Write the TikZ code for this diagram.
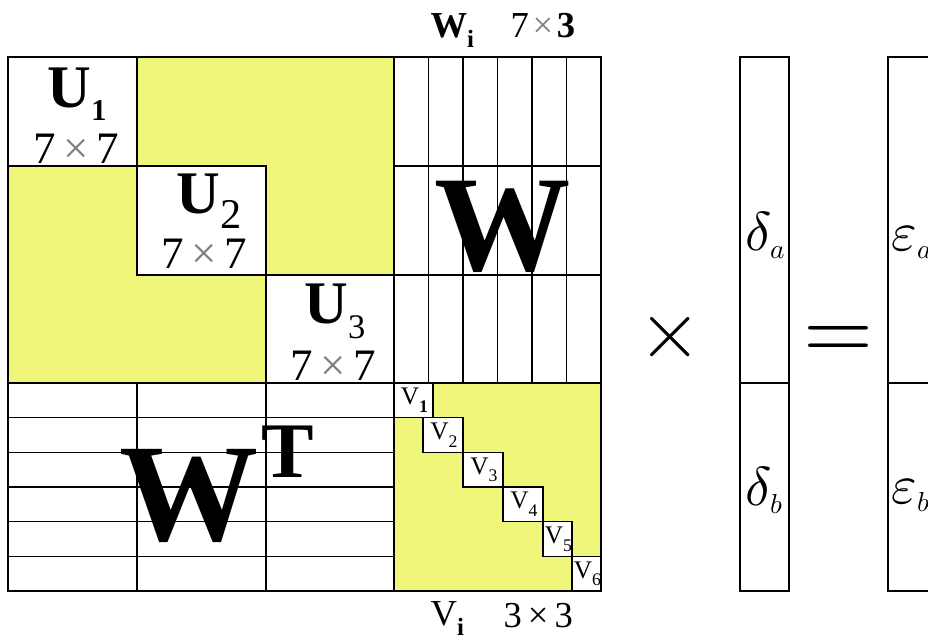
\documentclass[tikz,border=0pt]{standalone}
\usepackage{fontspec}
\setmainfont{Liberation Serif}
\usepackage{xcolor}
\usepackage{graphicx}
\usepackage{tikz}
\usetikzlibrary{positioning}
\DeclareFontShape{OML}{cmm}{m}{it}{<->cmmi10}{}
\DeclareFontShape{OMS}{cmsy}{m}{n}{<->cmsy10}{}
\DeclareFontShape{OT1}{cmr}{m}{n}{<->cmr10}{}
\definecolor{blockfill}{RGB}{240,246,122}
\newcommand{\lowidx}[3]{\raisebox{-#2}{\scalebox{#1}{#3}}}

\begin{document}
\begin{tikzpicture}[x=0.025cm,y=-0.025cm,line width=0.9pt,
  ulab/.style={inner sep=0pt,anchor=base,font=\fontsize{43}{43}\selectfont\bfseries},
  dimlab/.style={inner sep=0pt,anchor=base,font=\fontsize{32}{32}\selectfont},
  toplab/.style={inner sep=0pt,anchor=base west,font=\fontsize{26}{26}\selectfont},
  vlab/.style={inner sep=0pt,font=\fontsize{18}{18}\selectfont},
  veclab/.style={inner sep=0pt,anchor=base west,font=\fontsize{39}{39}\selectfont},
  bigW/.style={inner sep=0pt,anchor=base,font=\fontsize{97}{97}\selectfont\bfseries}
]
\clip (0,0) rectangle (928,640);
\fill[blockfill] (8,57) rectangle (394,383);
\fill[blockfill] (394,383) rectangle (601,591);
\draw (8,57) rectangle (601,591);
\draw (394,57) -- (394,591) (8,383) -- (601,383);
\draw (394,166) -- (601,166) (394,275) -- (601,275);
\foreach \x in {1,...,5} \draw ({394+\x*34.5},57) -- ({394+\x*34.5},383);
\foreach \y in {1,...,5} \draw (8,{383+\y*34.67}) -- (394,{383+\y*34.67});
\draw (137,383) -- (137,591) (266,383) -- (266,591);
\filldraw[fill=white] (8,57) rectangle (137,166) (137,166) rectangle (266,275) (266,275) rectangle (394,383);
\foreach \a/\b/\s [count=\k] in {394/433/\textbf{1},423/463/2,463/503/3,503/543/4,543/572/5,572/601/6}
  \filldraw[fill=white] (\a,{383+(\k-1)*34.67}) rectangle (\b,{383+\k*34.67})
    node[vlab] (v\k) at ({(\a+\b)/2+1},{383+(\k-.5)*34.67}) {V\lowidx{.7}{.3em}{\s}};
\node[ulab] (u1) at (77,107) {U\lowidx{.5}{.22em}{1}};
\node[ulab] (u2) at (209,213) {U\lowidx{.7}{.26em}{\mdseries 2}};
\node[ulab] (u3) at (335,323) {U\lowidx{.57}{.25em}{\mdseries 3}};
\node[dimlab] (u1dim) at (76,163) {7\,{\color{gray}×}\,7};
\node[dimlab] (u2dim) at (204,268) {7\,{\color{gray}×}\,7};
\node[dimlab] (u3dim) at (333,380) {7\,{\color{gray}×}\,7};
\node[toplab] (wi) at (430,37) {\textbf{W}\lowidx{.68}{.28em}{\textbf{i}}};
\node[toplab] (wdim) at (510,37) {7\hspace{.1em}{\color{gray}×}\hspace{.1em}\textbf{3}};
\node[toplab] (vi) at (430,625) {V\lowidx{.68}{.3em}{\textbf{i}}};
\node[toplab] (vdim) at (503,627) {3\,×\,3};
\node[bigW] (wbig) at (503,270) {W};
\node[bigW,font=\fontsize{99}{99}\selectfont\bfseries] (wt) at (189,540) {W};
\node[inner sep=0pt,anchor=base west,font=\fontsize{56}{56}\selectfont\bfseries] (tsup) at (261,477) {T};
\node[font=\fontsize{58}{58}\selectfont] (times) at (670,337) {$\times$};
\node[font=\fontsize{64}{64}\selectfont] (equals) at (838.5,342.5) {$=$};
\draw (740,57) rectangle (789,591) (740,383) -- (789,383);
\draw (888,57) rectangle (937,591) (888,383) -- (937,383);
\node[veclab] (da) at (745,250) {$\delta_{\scriptscriptstyle a}$};
\node[veclab] (db) at (745,505) {$\delta_{\scriptscriptstyle b}$};
\node[veclab] (ea) at (891,250) {$\varepsilon_{\scriptscriptstyle a}$};
\node[veclab] (eb) at (891,503) {$\varepsilon_{\scriptscriptstyle b}$};
\end{tikzpicture}
\end{document}
